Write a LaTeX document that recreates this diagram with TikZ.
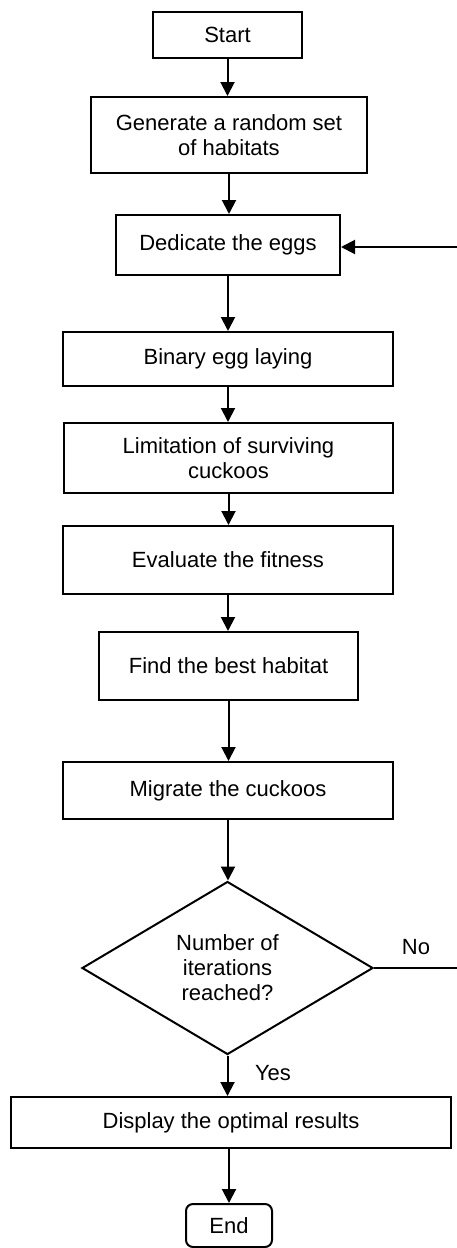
\documentclass[tikz,border=0pt]{standalone}
\usepackage{fontspec}
\setmainfont{Liberation Sans}
\usetikzlibrary{shapes.geometric,arrows.meta}
\begin{document}
\begin{tikzpicture}[x=1pt,y=-1pt,
  every node/.style={font=\fontsize{22}{25}\selectfont},
  box/.style={draw,line width=2pt,rectangle,inner sep=0pt,align=center},
  endbox/.style={box,rounded corners=7pt},
  decision/.style={draw,line width=2pt,diamond,aspect=1.68,inner sep=0pt,align=center,minimum width=291pt,minimum height=173pt},
  arr/.style={line width=2pt,-{Triangle[width=14pt,length=14pt]}},
  plain/.style={line width=2pt},
  lbl/.style={inner sep=0pt}]
\useasboundingbox (0,0) rectangle (457,1248);
\node[box,minimum width=149pt,minimum height=46pt] (start) at (227.5,35) {Start};
\node[box,minimum width=276pt,minimum height=76pt] (gen) at (229,135) {Generate a random set\\of habitats};
\node[box,minimum width=224pt,minimum height=60pt] (ded) at (228,245) {Dedicate the eggs};
\node[box,minimum width=330pt,minimum height=54pt] (bin) at (228,359) {Binary egg laying};
\node[box,minimum width=329pt,minimum height=70pt] (lim) at (228.5,458) {Limitation of surviving\\cuckoos};
\node[box,minimum width=330pt,minimum height=68pt] (eva) at (228,560) {Evaluate the fitness};
\node[box,minimum width=259pt,minimum height=68pt] (find) at (228.5,666) {Find the best habitat};
\node[box,minimum width=330pt,minimum height=57pt] (mig) at (228,790.5) {Migrate the cuckoos};
\node[decision] (dec) at (227.5,968) {Number of\\iterations\\reached?};
\node[box,minimum width=440pt,minimum height=51pt] (disp) at (231,1122.5) {Display the optimal results};
\node[endbox,minimum width=86pt,minimum height=43pt] (end) at (229,1225.5) {End};
\node[lbl] (no) at (416,947) {No};
\node[lbl] (yes) at (273,1073) {Yes};
\coordinate (fbR) at (457,247);
\coordinate (noR) at (457,968);
\draw[arr] (start.south) -- (start.south |- gen.north);
\draw[arr] (gen.south) -- (gen.south |- ded.north);
\draw[arr] (ded.south) -- (ded.south |- bin.north);
\draw[arr] (bin.south) -- (bin.south |- lim.north);
\draw[arr] (lim.south) -- (lim.south |- eva.north);
\draw[arr] (eva.south) -- (eva.south |- find.north);
\draw[arr] (find.south) -- (find.south |- mig.north);
\draw[arr] (mig.south) -- (mig.south |- dec.north);
\draw[arr] (dec.south) -- (dec.south |- disp.north);
\draw[arr] (disp.south -| end.north) -- (end.north);
\draw[plain] (dec.east) -- (noR);
\draw[arr] (fbR) -- (fbR -| ded.east);
\end{tikzpicture}
\end{document}
